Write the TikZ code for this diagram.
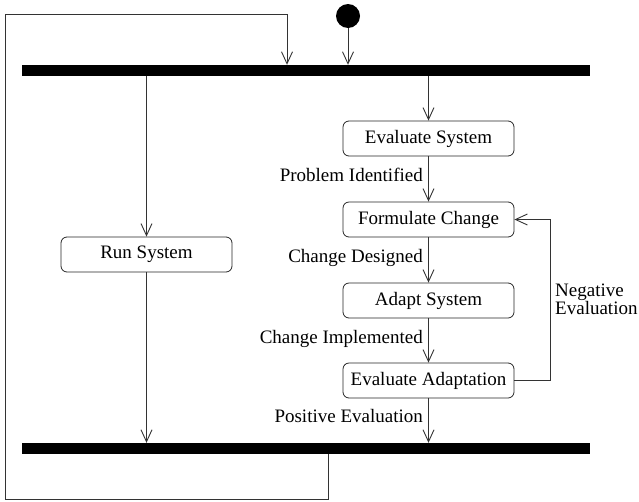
\documentclass[tikz,border=0pt]{standalone}
\usepackage{fontspec}
\setmainfont{Liberation Serif}
\usetikzlibrary{arrows.meta}
\begin{document}
\begin{tikzpicture}[x=1pt,y=-1pt,
  every node/.style={font=\fontsize{19}{22}\selectfont},
  activity/.style={draw=black!85, line width=0.8pt, rounded corners=6pt,
    minimum width=171pt, minimum height=35pt, inner sep=0pt},
  forkbar/.style={fill=black, minimum width=568pt, minimum height=11pt, inner sep=0pt},
  arr/.style={draw=black!80, line width=0.9pt,
    -{Straight Barb[length=12pt,width=11pt,line width=0.9pt]}},
  lbl/.style={inner sep=0pt, anchor=base east}]
\useasboundingbox (0,0) rectangle (639,501);

% start node and synchronisation bars
\node[circle, fill=black, minimum size=24pt, inner sep=0pt] (init) at (348,16) {};
\node[forkbar] (topbar) at (306,70.5) {};
\node[forkbar] (botbar) at (306,448.5) {};

% activities
\node[activity] (run) at (146.5,254.5) {Run System};
\node[activity] (evs) at (428.5,138.5) {Evaluate System};
\node[activity] (fc)  at (428.5,219.5) {Formulate Change};
\node[activity] (ad)  at (428.5,300.5) {Adapt System};
\node[activity] (ea)  at (428.5,380.5) {Evaluate Adaptation};

% helper points for the routed connectors
\coordinate (fbx) at (328,0);
\coordinate (c1) at (5,499);
\coordinate (c2) at (287,14);
\coordinate (nx) at (550,0);

% flows
\draw[arr] (init) -- (topbar.north -| init);
\draw[arr] (topbar.south -| run) -- (run);
\draw[arr] (run) -- (botbar.north -| run);
\draw[arr] (topbar.south -| evs) -- (evs);
\draw[arr] (evs) -- (fc);
\draw[arr] (fc) -- (ad);
\draw[arr] (ad) -- (ea);
\draw[arr] (ea) -- (botbar.north -| ea);

% loop from the join bar back to the fork bar
\draw[arr] (botbar.south -| fbx) -- (fbx |- c1) -- (c1) |- (c2) -- (topbar.north -| c2);

% negative evaluation loop
\draw[arr] (ea.east) -- (ea.east -| nx) |- (fc.east);

% transition labels
\node[lbl] (lpi) at (423,181) {Problem Identified};
\node[lbl] (lcd) at (423,262) {Change Designed};
\node[lbl] (lci) at (423,343) {Change Implemented};
\node[lbl] (lpe) at (423,422) {Positive Evaluation};
\node[inner sep=0pt, anchor=north west, align=left] (lne) at (555,284)
  {Negative\\[-4pt]Evaluation};
\end{tikzpicture}
\end{document}
